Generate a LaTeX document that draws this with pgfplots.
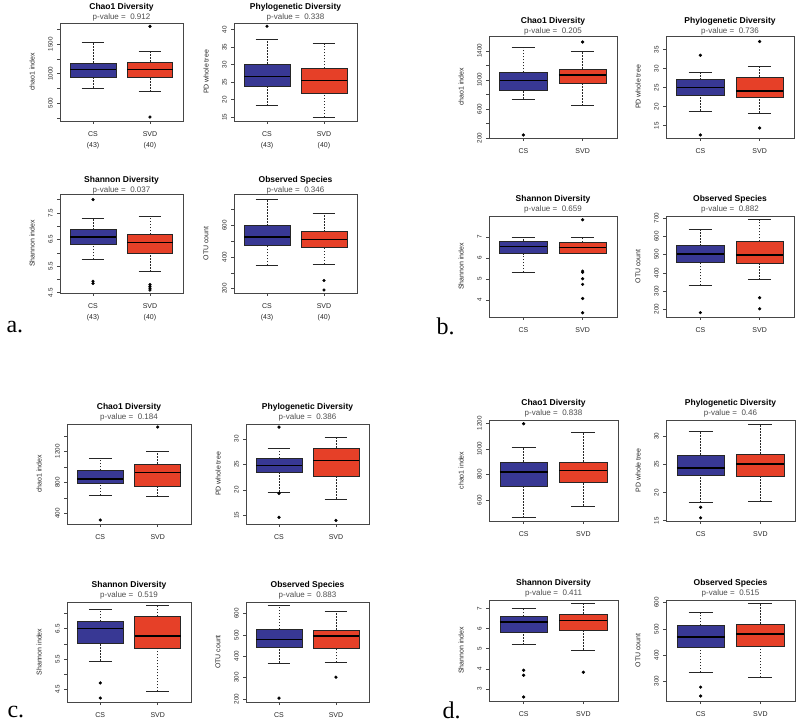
\documentclass[border=0pt]{standalone}
\usepackage{fontspec}
\setmainfont{Liberation Sans}
\newfontfamily\panelfont{Liberation Serif}
\usepackage{pgfplots}
\pgfplotsset{compat=1.18}
\definecolor{csblue}{RGB}{56,56,148}
\definecolor{svdred}{RGB}{230,64,40}
\definecolor{frame}{RGB}{70,70,70}

\pgfplotsset{
  bp/.style={
    scale only axis, anchor=south west,
    xmin=0.42, xmax=2.58,
    xtick={1,2}, xticklabels={CS,SVD},
    xtick pos=left, ytick pos=left,
    tick align=outside, major tick length=3pt,
    scaled ticks=false,
    axis line style={draw=frame, line width=0.7pt},
    tick style={draw=frame, line width=0.5pt},
    yticklabel style={font=\fontsize{6.3}{7}\selectfont, text=black!85, rotate=90, anchor=south, inner sep=4.2pt},
    xticklabel style={font=\fontsize{7}{8}\selectfont, text=black!85, inner sep=1pt, yshift=-6pt},
    /pgf/number format/assume math mode=true,
    every axis y label/.style={at={(axis description cs:0,0.5)}, rotate=90, anchor=center, yshift=28pt, font=\fontsize{7}{8}\selectfont, text=black!85},
  },
  bpa/.style={bp, xticklabels={{CS\\(43)},{SVD\\(40)}}, xticklabel style={align=center, font=\fontsize{7}{11}\selectfont}},
  wh/.style={draw=black!85, line width=0.5pt, dash pattern=on 1.6pt off 1.4pt},
  cap/.style={draw=black!85, line width=0.5pt},
  bxf/.style={fill=#1, draw=black!85, line width=0.5pt},
  med/.style={draw=black, line width=1.6pt},
  outl/.style={only marks, mark=*, mark size=1.4pt, mark options={fill=black, draw=black}},
}
% CS box at x=1 : lower whisker, lower quartile, median, upper quartile, upper whisker
\newcommand{\bxA}[5]{%
  \addplot[wh] coordinates {(1,#1) (1,#2)};
  \addplot[wh] coordinates {(1,#4) (1,#5)};
  \addplot[cap] coordinates {(0.8,#1) (1.2,#1)};
  \addplot[cap] coordinates {(0.8,#5) (1.2,#5)};
  \addplot[bxf=csblue] coordinates {(0.6,#2) (1.4,#2) (1.4,#4) (0.6,#4)} --cycle;
  \addplot[med] coordinates {(0.6,#3) (1.4,#3)};
}
% SVD box at x=2
\newcommand{\bxB}[5]{%
  \addplot[wh] coordinates {(2,#1) (2,#2)};
  \addplot[wh] coordinates {(2,#4) (2,#5)};
  \addplot[cap] coordinates {(1.8,#1) (2.2,#1)};
  \addplot[cap] coordinates {(1.8,#5) (2.2,#5)};
  \addplot[bxf=svdred] coordinates {(1.6,#2) (2.4,#2) (2.4,#4) (1.6,#4)} --cycle;
  \addplot[med] coordinates {(1.6,#3) (2.4,#3)};
}
\newcommand{\ttl}[4]{%
  \node[font=\bfseries\fontsize{8.5}{9}\selectfont] at (#1pt,#2pt) {#4};
  \node[font=\fontsize{8}{9}\selectfont, text=black!70, yshift=-10pt] at (#1pt,#2pt) {p-value = \ #3};
}

\begin{document}
\begin{tikzpicture}
\useasboundingbox (0pt,0pt) rectangle (800pt,723pt);

% ================= Panel a =================
\begin{axis}[bpa, at={(60pt,602pt)}, width=123pt, height=98pt, ymin=198, ymax=1859,
  ytick={250,500,750,1000,1250,1500,1750}, yticklabels={,500,,1000,,1500,}, ylabel={chao1 index}]
\bxA{757}{944}{1073}{1181}{1531}
\bxB{695}{944}{1073}{1198}{1384}
\addplot[outl] coordinates {(2,1802) (2,265)};
\end{axis}
\ttl{121.5}{716}{0.912}{Chao1 Diversity}

\begin{axis}[bpa, at={(234pt,602pt)}, width=123pt, height=98pt, ymin=13.9, ymax=41.9,
  ytick={15,20,25,30,35,40}, yticklabels={15,20,25,30,35,40}, ylabel={PD whole tree}]
\bxA{18.26}{23.8}{26.56}{30.19}{37.25}
\bxB{15.0}{21.8}{25.5}{28.95}{36.0}
\addplot[outl] coordinates {(1,40.97)};
\end{axis}
\ttl{295.5}{716}{0.338}{Phylogenetic Diversity}

\begin{axis}[bpa, at={(60pt,430pt)}, width=123pt, height=99pt, ymin=4.49, ymax=8.21,
  ytick={4.5,5,5.5,6,6.5,7,7.5,8}, yticklabels={4.5,,5.5,,6.5,,7.5,}, ylabel={Shannon index}]
\bxA{5.75}{6.34}{6.59}{6.875}{7.29}
\bxB{5.29}{6.0}{6.39}{6.7}{7.375}
\addplot[outl] coordinates {(1,8.0) (1,4.93) (1,4.85) (2,4.81) (2,4.74) (2,4.67) (2,4.6)};
\end{axis}
\ttl{121.5}{543}{0.037}{Shannon Diversity}

\begin{axis}[bpa, at={(234pt,430pt)}, width=123pt, height=99pt, ymin=173, ymax=797,
  ytick={200,300,400,500,600,700}, yticklabels={200,,400,,600,}, ylabel={OTU count}]
\bxA{347}{472}{525}{598}{761}
\bxB{355}{464}{510}{560}{673}
\addplot[outl] coordinates {(2,252) (2,192)};
\end{axis}
\ttl{295.5}{543}{0.346}{Observed Species}

% ================= Panel b =================
\begin{axis}[bp, at={(489pt,585pt)}, width=128pt, height=102pt, ymin=197, ymax=1604,
  ytick={200,400,600,800,1000,1200,1400}, yticklabels={200,,600,,1000,,1400}, ylabel={chao1 index}]
\bxA{737}{857}{991}{1101}{1452}
\bxB{645}{949}{1069}{1148}{1392}
\addplot[outl] coordinates {(1,239) (2,1521)};
\end{axis}
\ttl{553}{701.3}{0.205}{Chao1 Diversity}

\begin{axis}[bp, at={(666pt,585pt)}, width=128pt, height=102pt, ymin=11.76, ymax=38.6,
  ytick={15,20,25,30,35}, yticklabels={15,20,25,30,35}, ylabel={PD whole tree}]
\bxA{18.9}{23.04}{25.0}{27.1}{29.03}
\bxB{18.37}{22.6}{24.19}{27.8}{30.6}
\addplot[outl] coordinates {(1,33.52) (1,12.56) (2,37.14) (2,14.4)};
\end{axis}
\ttl{730}{701.3}{0.736}{Phylogenetic Diversity}

\begin{axis}[bp, at={(489pt,406pt)}, width=128pt, height=101pt, ymin=3.2, ymax=8.0,
  ytick={4,5,6,7}, yticklabels={4,5,6,7}, ylabel={Shannon index}]
\bxA{5.33}{6.21}{6.55}{6.81}{7.0}
\bxB{6.21}{6.24}{6.51}{6.75}{7.0}
\addplot[outl] coordinates {(2,7.82) (2,5.38) (2,5.32) (2,5.02) (2,4.75) (2,4.08) (2,3.40)};
\end{axis}
\ttl{553}{524}{0.659}{Shannon Diversity}

\begin{axis}[bp, at={(666pt,406pt)}, width=128pt, height=101pt, ymin=157, ymax=712,
  ytick={200,300,400,500,600,700}, yticklabels={200,300,400,500,600,700}, ylabel={OTU count}]
\bxA{331}{459}{504}{549}{640}
\bxB{362}{453}{499}{573}{692}
\addplot[outl] coordinates {(1,181) (2,263) (2,202)};
\end{axis}
\ttl{730}{524}{0.882}{Observed Species}

% ================= Panel c =================
\begin{axis}[bp, at={(67pt,199pt)}, width=124pt, height=100pt, ymin=267, ymax=1553,
  ytick={400,600,800,1000,1200,1400}, yticklabels={400,,800,,1200,}, ylabel={chao1 index}]
\bxA{637}{787}{843}{959}{1110}
\bxB{619}{753}{929}{1041}{1200}
\addplot[outl] coordinates {(1,318) (2,1514)};
\end{axis}
\ttl{129}{315.7}{0.184}{Chao1 Diversity}

\begin{axis}[bp, at={(246pt,199pt)}, width=123pt, height=100pt, ymin=13.3, ymax=32.9,
  ytick={15,20,25,30}, yticklabels={15,20,25,30}, ylabel={PD whole tree}]
\bxA{19.58}{23.45}{24.8}{26.2}{28.17}
\bxB{18.2}{22.7}{25.74}{28.23}{30.4}
\addplot[outl] coordinates {(1,32.29) (1,19.3) (1,14.6) (2,14.0)};
\end{axis}
\ttl{307.5}{315.7}{0.386}{Phylogenetic Diversity}

\begin{axis}[bp, at={(67pt,21pt)}, width=124pt, height=100pt, ymin=4.08, ymax=7.38,
  ytick={4.5,5,5.5,6,6.5,7}, yticklabels={4.5,,5.5,,6.5,}, ylabel={Shannon index}]
\bxA{5.43}{6.03}{6.5}{6.74}{7.14}
\bxB{4.43}{5.86}{6.26}{6.91}{7.26}
\addplot[outl] coordinates {(1,4.71) (1,4.21)};
\end{axis}
\ttl{129}{138}{0.519}{Shannon Diversity}

\begin{axis}[bp, at={(246pt,21pt)}, width=123pt, height=100pt, ymin=186, ymax=653,
  ytick={200,300,400,500,600}, yticklabels={200,300,400,500,600}, ylabel={OTU count}]
\bxA{369}{441}{477}{526}{637}
\bxB{371}{435}{494}{522}{609}
\addplot[outl] coordinates {(1,204) (2,302)};
\end{axis}
\ttl{307.5}{138}{0.883}{Observed Species}

% ================= Panel d =================
\begin{axis}[bp, at={(489pt,202pt)}, width=129pt, height=101pt, ymin=437, ymax=1224,
  ytick={600,800,1000,1200}, yticklabels={600,800,1000,1200}, ylabel={chao1 index}]
\bxA{463}{711}{818}{898}{1013}
\bxB{555}{737}{831}{898}{1130}
\addplot[outl] coordinates {(1,1195)};
\end{axis}
\ttl{553.5}{319.3}{0.838}{Chao1 Diversity}

\begin{axis}[bp, at={(666pt,202pt)}, width=129pt, height=101pt, ymin=14.94, ymax=32.9,
  ytick={15,20,25,30}, yticklabels={15,20,25,30}, ylabel={PD whole tree}]
\bxA{18.2}{23.1}{24.35}{26.67}{30.89}
\bxB{18.4}{22.98}{25.12}{26.85}{32.2}
\addplot[outl] coordinates {(1,17.38) (1,15.5)};
\end{axis}
\ttl{730.5}{319.3}{0.46}{Phylogenetic Diversity}

\begin{axis}[bp, at={(489pt,22pt)}, width=129pt, height=101pt, ymin=2.40, ymax=7.42,
  ytick={3,4,5,6,7}, yticklabels={3,4,5,6,7}, ylabel={Shannon index}]
\bxA{5.20}{5.83}{6.33}{6.61}{7.02}
\bxB{4.93}{5.9}{6.40}{6.73}{7.26}
\addplot[outl] coordinates {(1,3.93) (1,3.68) (1,2.60) (2,3.83)};
\end{axis}
\ttl{553.5}{140}{0.411}{Shannon Diversity}

\begin{axis}[bp, at={(666pt,22pt)}, width=129pt, height=101pt, ymin=224, ymax=610,
  ytick={300,400,500,600}, yticklabels={300,400,500,600}, ylabel={OTU count}]
\bxA{334}{431}{468}{513}{562}
\bxB{315}{435}{480}{518}{599}
\addplot[outl] coordinates {(1,277) (1,243)};
\end{axis}
\ttl{730.5}{140}{0.515}{Observed Species}

% panel letters
\node[anchor=base west, font=\panelfont\fontsize{24}{24}\selectfont] at (3pt,390pt) {a.};
\node[anchor=base west, font=\panelfont\fontsize{24}{24}\selectfont] at (433pt,388pt) {b.};
\node[anchor=base west, font=\panelfont\fontsize{24}{24}\selectfont] at (4pt,6pt) {c.};
\node[anchor=base west, font=\panelfont\fontsize{24}{24}\selectfont] at (439pt,5pt) {d.};
\end{tikzpicture}
\end{document}
